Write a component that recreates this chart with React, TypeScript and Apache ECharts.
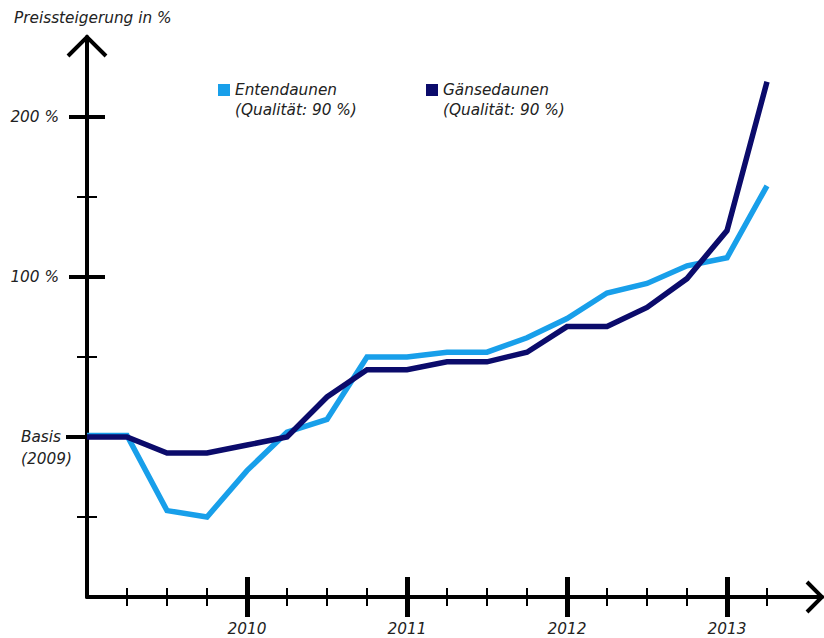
import React, { useEffect, useRef } from "react";
import * as echarts from "echarts";

// Quarters from the start of 2009 (index 0) to mid 2013 (index 17)
const entendaunen = [1, 1, -46, -50, -21, 3, 11, 50, 50, 53, 53, 62, 74, 90, 96, 107, 112, 157];
const gaensedaunen = [0, 0, -10, -10, -5, 0, 25, 42, 42, 47, 47, 53, 69, 69, 81, 99, 129, 222];
const seriesNames = ["Entendaunen", "Gänsedaunen"];
const qualityNote = "(Qualität: 90 %)";
const years = ["2010", "2011", "2012", "2013"];
const yearTicks = [4, 8, 12, 16];
const quarterTicks = [1, 2, 3, 5, 6, 7, 9, 10, 11, 13, 14, 15, 17];
const yMajorTicks = [100, 200];
const yMinorTicks = [-50, 50, 150];
const yLabels = ["100 %", "200 %"];
const basisLabel = ["Basis", "(2009)"];
const yTitle = "Preissteigerung in %";

const FONT = "'DejaVu Sans', sans-serif";
const TXT = "#222";
const X_MAX = 18.375;
const Y_MIN = -100;
const Y_MAX = 250;

export default function App() {
  const ref = useRef<HTMLDivElement>(null);
  useEffect(() => {
    if (!ref.current) return;
    const chart = echarts.init(ref.current, null, { renderer: "svg" });
    const txt = { fontFamily: FONT, fontStyle: "italic", fontSize: 15.3, color: TXT };

    const xBase = (extra: any) => ({
      type: "value",
      min: 0,
      max: X_MAX,
      position: "bottom",
      axisLine: { show: false, onZero: false },
      axisLabel: { show: false },
      splitLine: { show: false },
      axisTick: { show: false },
      ...extra,
    });
    const yBase = (extra: any) => ({
      type: "value",
      min: Y_MIN,
      max: Y_MAX,
      position: "left",
      axisLine: { show: false, onZero: false },
      axisLabel: { show: false },
      splitLine: { show: false },
      axisTick: { show: false },
      ...extra,
    });
    const tick = (values: number[], inside: boolean, length: number, width: number) => ({
      show: true,
      inside,
      length,
      customValues: values,
      lineStyle: { color: "#000", width },
    });

    chart.setOption({
      animation: false,
      backgroundColor: "#fff",
      title: {
        text: yTitle,
        left: 14,
        top: 10,
        padding: 0,
        textStyle: { ...txt, fontWeight: "normal" },
      },
      legend: seriesNames.map((name, i) => ({
        data: [name],
        left: i === 0 ? 218 : 426,
        top: 60,
        padding: 0,
        icon: "rect",
        itemWidth: 12,
        itemHeight: 12,
        selectedMode: false,
        formatter: (n: string) => "\n" + n + "\n" + qualityNote,
        textStyle: { ...txt, lineHeight: 20 },
      })),
      grid: { left: 87, right: 824 - 822, top: 37, bottom: 638 - 597, containLabel: false },
      xAxis: [
        xBase({
          axisLine: { show: true, onZero: false, lineStyle: { color: "#000", width: 4 } },
          axisTick: tick(quarterTicks, false, 9, 2),
        }),
        xBase({ axisTick: tick(quarterTicks, true, 9, 2) }),
        xBase({
          axisTick: tick(yearTicks, false, 20, 5),
          axisLabel: {
            show: true,
            customValues: yearTicks,
            margin: 24,
            formatter: (v: number) => years[yearTicks.indexOf(Math.round(v))] ?? "",
            ...txt,
          },
        }),
        xBase({ axisTick: tick(yearTicks, true, 20, 5) }),
      ],
      yAxis: [
        yBase({
          axisLine: { show: true, onZero: false, lineStyle: { color: "#000", width: 4 } },
          axisTick: tick(yMinorTicks, false, 10, 2),
          axisLabel: {
            show: true,
            customValues: yMajorTicks,
            margin: 28,
            formatter: (v: number) => yLabels[yMajorTicks.indexOf(Math.round(v))] ?? "",
            ...txt,
          },
        }),
        yBase({ axisTick: tick(yMinorTicks, true, 10, 2) }),
        yBase({ axisTick: tick(yMajorTicks, false, 18, 4) }),
        yBase({ axisTick: tick(yMajorTicks, true, 18, 4) }),
        yBase({
          axisTick: tick([0], false, 21, 4),
          axisLabel: {
            show: true,
            customValues: [0],
            margin: 66,
            align: "left",
            lineHeight: 22,
            formatter: () => "\n" + basisLabel.join("\n"),
            ...txt,
          },
        }),
      ],
      graphic: [
        {
          type: "polyline",
          shape: { points: [[68, 56], [87, 37], [106, 56]] },
          style: { stroke: "#000", lineWidth: 4, fill: "none", lineJoin: "miter" },
        },
        {
          type: "polyline",
          shape: { points: [[807, 582], [822, 597], [807, 612]] },
          style: { stroke: "#000", lineWidth: 4, fill: "none", lineJoin: "miter" },
        },
      ],
      series: [
        {
          name: seriesNames[0],
          type: "line",
          xAxisIndex: 0,
          yAxisIndex: 0,
          symbol: "none",
          color: "#189fea",
          itemStyle: { color: "#189fea" },
          lineStyle: { color: "#189fea", width: 5.5, join: "miter" },
          data: entendaunen.map((v, i) => [i, v]),
        },
        {
          name: seriesNames[1],
          type: "line",
          xAxisIndex: 0,
          yAxisIndex: 0,
          symbol: "none",
          color: "#0b0b6b",
          itemStyle: { color: "#0b0b6b" },
          lineStyle: { color: "#0b0b6b", width: 5.5, join: "miter" },
          data: gaensedaunen.map((v, i) => [i, v]),
        },
      ],
    });
    return () => chart.dispose();
  }, []);
  return (
    <div
      ref={ref}
      style={{ position: "absolute", left: 0, top: 0, width: 824, height: 638, background: "#fff" }}
    />
  );
}
